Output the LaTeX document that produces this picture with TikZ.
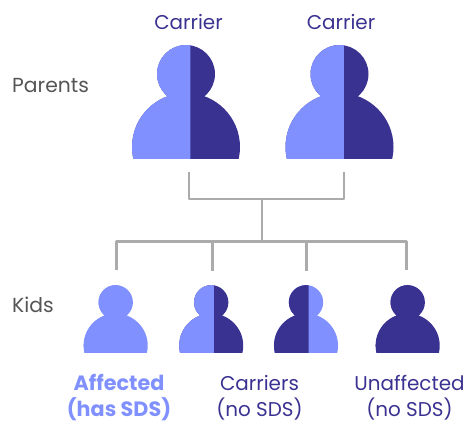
\documentclass[tikz,border=0pt]{standalone}
\usepackage{fontspec}
\setmainfont{Poppins}
\definecolor{deep}{HTML}{3A3291}
\definecolor{light}{HTML}{8091FF}
\definecolor{ink}{HTML}{555555}
\definecolor{wire}{HTML}{ABABAB}
% \person{name}{x}{head y}{scale}{left colour}{right colour}
\newcommand{\person}[6]{%
  \coordinate (#1) at (#2,#3);
  \begin{scope}[shift={(#2,#3)},scale=#4]
    \begin{scope}
      \clip (-70,-40) rectangle (70,84);
      \fill[#6] (0,0) circle (29) (0,73) circle (54);
    \end{scope}
    \begin{scope}
      \clip (-70,-40) rectangle (4.3,84);
      \fill[#5] (0,0) circle (29) (0,73) circle (54);
    \end{scope}
  \end{scope}}
\tikzset{
  wireline/.style={draw=wire,line width=2.7bp,line join=round},
  lbl/.style={font=\fontsize{20}{26.5}\selectfont,text=deep,align=center,inner sep=0pt},
  sidelbl/.style={font=\fontsize{20.4}{26}\selectfont,text=ink,inner sep=0pt},
  affectedlbl/.style={font=\fontsize{20.8}{27}\selectfont\bfseries,text=light,align=center,inner sep=0pt}
}
\begin{document}
\begin{tikzpicture}[x=1bp,y=-1bp]
\useasboundingbox (0,0) rectangle (466,423);
\person{parentA}{186}{74}{1}{light}{deep}
\person{parentB}{339.5}{74}{1}{light}{deep}
\person{kidA}{115.7}{302.3}{0.593}{light}{light}
\person{kidB}{211.2}{302.3}{0.593}{light}{deep}
\person{kidC}{306}{302.3}{0.593}{deep}{light}
\person{kidD}{407.7}{302.3}{0.593}{deep}{deep}
\coordinate (dropA) at (189,172);
\coordinate (dropB) at (344,172);
\coordinate (joinA) at (189,199);
\coordinate (joinB) at (344,199);
\coordinate (joinM) at (262,199);
\coordinate (busM) at (262,241.5);
\coordinate (busA) at (116.5,241.5);
\coordinate (busB) at (212.3,241.5);
\coordinate (busC) at (306.5,241.5);
\coordinate (busD) at (406.5,241.5);
\coordinate (endA) at (116.5,270);
\coordinate (endB) at (212.3,271);
\coordinate (endC) at (306.5,271);
\coordinate (endD) at (406.5,270);
\draw[wireline] (dropA) -- (joinA) -- (joinB) -- (dropB);
\draw[wireline] (joinM) -- (busM);
\draw[wireline] (endA) -- (busA) -- (busD) -- (endD);
\draw[wireline] (busB) -- (endB);
\draw[wireline] (busC) -- (endC);
\node[lbl] (carrierA) at (188.5,22) {Carrier};
\node[lbl] (carrierB) at (341,22) {Carrier};
\node[sidelbl,anchor=west] (parents) at (12,86) {Parents};
\node[sidelbl,anchor=west] (kids) at (12,305) {Kids};
\node[affectedlbl] (affected) at (119,397.5) {Affected\\(has SDS)};
\node[lbl] (carriers) at (259.5,398) {Carriers\\(no SDS)};
\node[lbl] (unaffected) at (409.5,398) {Unaffected\\(no SDS)};
\end{tikzpicture}
\end{document}
